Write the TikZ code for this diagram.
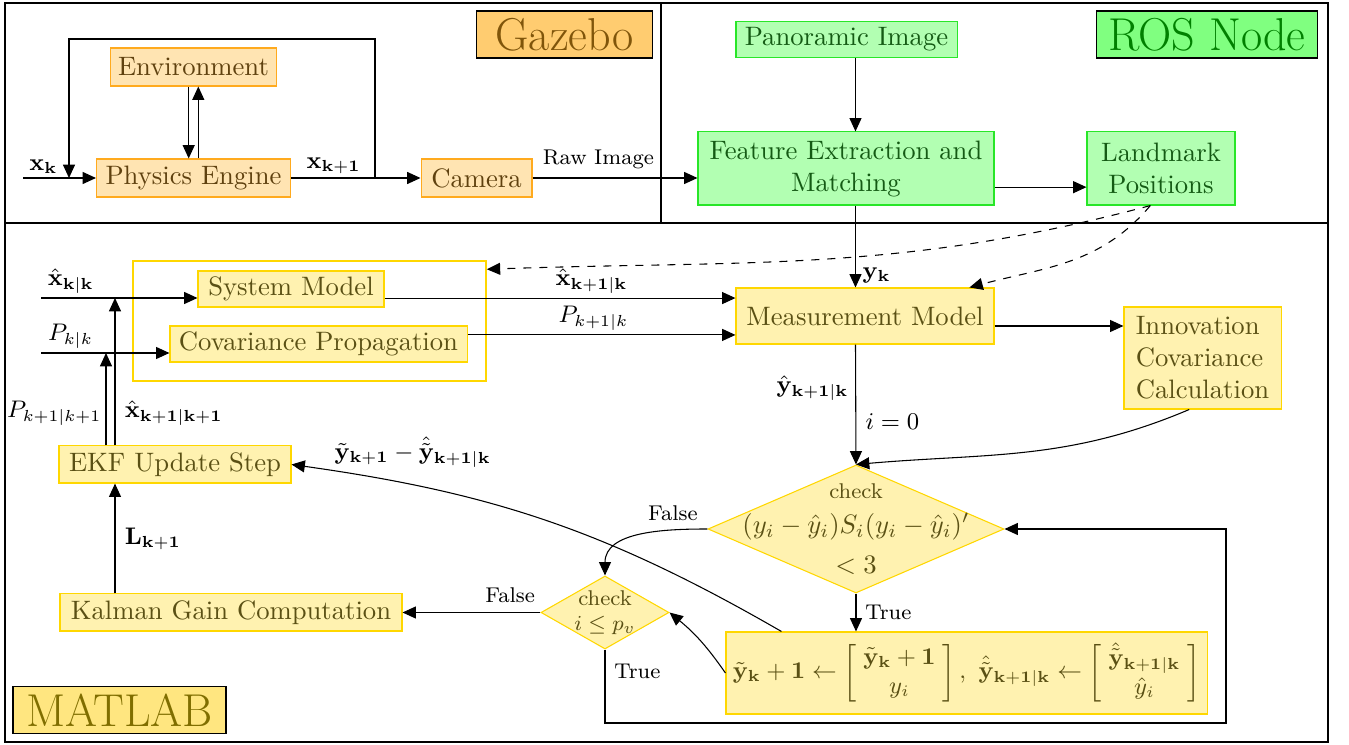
\documentclass[tikz,border=0pt]{standalone}
\usepackage{amsmath}
\usepackage{xcolor}
\usepackage{tikz}
\usetikzlibrary{arrows.meta}
\usetikzlibrary{positioning,shapes.geometric}

\definecolor{gzfill}{RGB}{255,228,178}
\definecolor{gzline}{RGB}{255,170,30}
\definecolor{gztext}{RGB}{95,65,15}
\definecolor{gzlab}{RGB}{255,204,112}
\definecolor{gzlabtext}{RGB}{128,85,10}
\definecolor{rsfill}{RGB}{178,255,178}
\definecolor{rsline}{RGB}{40,230,40}
\definecolor{rstext}{RGB}{20,90,20}
\definecolor{rslab}{RGB}{128,255,128}
\definecolor{rslabtext}{RGB}{0,128,0}
\definecolor{mlfill}{RGB}{255,242,176}
\definecolor{mlline}{RGB}{255,215,0}
\definecolor{mltext}{RGB}{90,80,20}
\definecolor{mllab}{RGB}{255,230,128}
\definecolor{mllabtext}{RGB}{128,110,0}

\begin{document}
\begin{tikzpicture}[
		x=0.375pt, y=0.375pt,
		Frame/.style={draw=black,line width=1pt},
		GzBox/.style={draw=gzline,fill=gzfill,text=gztext,inner sep=2pt,minimum height=14.25pt},
		RosBox/.style={draw=rsline,fill=rsfill,text=rstext,inner sep=2pt,align=center},
		MlBox/.style={draw=mlline,fill=mlfill,text=mltext,inner sep=2pt},
		TagBox/.style={draw=black,semithick,font=\LARGE,inner sep=1pt,minimum height=17.5pt},
		MlDiamond/.style={shape=diamond,draw=mlline,fill=mlfill,inner sep=0pt},
		Arr/.style={-{Triangle[length=5pt,width=4.5pt]}},
		DashArr/.style={Arr,dashed},
		Lbl/.style={font=\small,inner sep=1.5pt},
		Tf/.style={font=\footnotesize}
		]
		\useasboundingbox (0,0) rectangle (1349,-745);
		
		% the three parts
		\draw[Frame] (5,-3) rectangle (661,-223);
		\draw[Frame] (661,-3) rectangle (1328,-223);
		\draw[Frame] (5,-223) rectangle (1328,-742);
		
		\node[TagBox,fill=gzlab,text=gzlabtext,minimum width=66pt] (gztag) at (564.5,-34.5) {Gazebo};
		\node[TagBox,fill=rslab,text=rslabtext,minimum width=83pt] (rostag) at (1207,-34.5) {ROS Node};
		\node[TagBox,fill=mllab,text=mllabtext,minimum width=80pt] (mltag) at (119.5,-710) {MATLAB};
		
		% Gazebo
		\node[GzBox,minimum width=62.3pt] (env) at (193.5,-67) {Environment};
		\node[GzBox,minimum width=72.75pt] (phys) at (193.5,-178) {Physics Engine};
		\node[GzBox,minimum width=41.6pt] (cam) at (476.5,-178) {Camera};
		
		\coordinate (xin) at (23,-178);
		\coordinate (fbin) at (69,-178);
		\coordinate (tap) at (375,-178);
		\coordinate (looptop) at (375,-39);
		
		\draw[Arr] (xin) -- (phys.west) node[Lbl,pos=0.28,above] {$\mathbf{x_k}$};
		\draw[Arr] (tap) -- (looptop) -| (fbin);
		\draw[Arr] (phys.east) -- (cam.west) node[Lbl,pos=0.33,above] {$\mathbf{x_{k+1}}$};
		\draw[Arr] ([xshift=-1.8pt]env.south) -- ([xshift=-1.8pt]phys.north);
		\draw[Arr] ([xshift=1.8pt]phys.north) -- ([xshift=1.8pt]env.south);
		
		% ROS node
		\node[RosBox,minimum width=82.9pt,minimum height=13.5pt] (pano) at (846.5,-39.5) {Panoramic Image};
		\node[RosBox,minimum width=111pt,minimum height=27.4pt] (feat) at (846,-168.5) {Feature Extraction and\\ Matching};
		\node[RosBox,minimum width=55.5pt,minimum height=27.4pt] (lm) at (1161,-168.5) {Landmark\\ Positions};
		
		\coordinate (col) at (855.5,0);
		\draw[Arr] (pano.south -| col) -- (feat.north -| col);
		\draw[Arr] ([yshift=-7pt]feat.east) -- ([yshift=-7pt]lm.west);
		\draw[Arr] (cam.east) -- (cam.east -| feat.west) node[pos=0.4,above,Tf] {Raw Image};
		
		% MATLAB
		\node[draw=mlline,semithick,minimum width=132.4pt,minimum height=45pt] (pred) at (309.5,-321) {};
		\node[MlBox,minimum width=69.75pt,minimum height=13.5pt] (sys) at (291,-289) {System Model};
		\node[MlBox,minimum width=111.4pt,minimum height=13.5pt] (cov) at (318.5,-344) {Covariance Propagation};
		\node[MlBox,minimum width=96.75pt,minimum height=21pt] (meas) at (865,-316) {Measurement Model};
		\node[MlBox,minimum width=58.9pt,minimum height=38.25pt,align=left] (innov) at (1202.5,-358) {Innovation\\ Covariance\\ Calculation};
		\node[MlBox,minimum width=87pt,minimum height=13.9pt] (ekf) at (175,-464.5) {EKF Update Step};
		\node[MlBox,minimum width=128.25pt,minimum height=13.9pt] (kal) at (231,-612.5) {Kalman Gain Computation};
		\node[MlBox,minimum width=180.4pt,minimum height=30.75pt,font=\small] (upd) at (966.5,-673) {\arraycolsep=2.5pt$\tilde{\mathbf{y}}_{\mathbf{k}}+\mathbf{1}\leftarrow\left[\begin{array}{c}\tilde{\mathbf{y}}_{\mathbf{k}}+\mathbf{1}\\ y_i\end{array}\right],\ \hat{\tilde{\mathbf{y}}}_{\mathbf{k+1|k}}\leftarrow\left[\begin{array}{c}\hat{\tilde{\mathbf{y}}}_{\mathbf{k+1|k}}\\ \hat{y}_i\end{array}\right]$};
		
		\node[MlDiamond,minimum width=111pt,minimum height=48pt] (chk1) at (856,-529) {};
		\node[text=mltext,align=center] (chk1txt) at (chk1) {{\footnotesize check}\\[1pt] $(y_i-\hat{y}_i)S_i(y_i-\hat{y}_i)'$\\[3pt] $<3$};
		\node[MlDiamond,minimum width=48pt,minimum height=27.4pt] (chk2) at (605,-612.5) {};
		\node[text=mltext,align=center,font=\footnotesize] (chk2txt) at (chk2) {check\\ $i\le p_v$};
		
		\coordinate (xhin) at (41,-298);
		\coordinate (pin) at (41,-353);
		\coordinate (pcol) at (106,0);
		\coordinate (xcol) at (115,0);
		\coordinate (loopbr) at (1226,-723);
		
		\draw[Arr] (xhin) -- (xhin -| sys.west) node[Lbl,pos=0.19,above] {$\hat{\mathbf{x}}_{\mathbf{k|k}}$};
		\draw[Arr] (pin) -- (pin -| cov.west) node[Lbl,pos=0.23,above] {$P_{k|k}$};
		\draw[Arr] (ekf.north -| pcol) -- (pin -| pcol) node[Lbl,pos=0.35,left] {$P_{k+1|k+1}$};
		\draw[Arr] (ekf.north -| xcol) -- (xhin -| xcol) node[Lbl,pos=0.22,right,xshift=2pt] {$\hat{\mathbf{x}}_{\mathbf{k+1|k+1}}$};
		\draw[Arr] (kal.north -| xcol) -- (ekf.south -| xcol) node[Lbl,midway,right,xshift=2pt] {$\mathbf{L_{k+1}}$};
		
		\draw[Arr] ([yshift=-3.4pt]sys.east) -- ([yshift=-3.4pt]sys.east -| meas.west) node[Lbl,pos=0.59,above] {$\hat{\mathbf{x}}_{\mathbf{k+1|k}}$};
		\draw[Arr] ([yshift=3.4pt]cov.east) -- ([yshift=3.4pt]cov.east -| meas.west) node[Lbl,pos=0.47,above] {$P_{k+1|k}$};
		\draw[Arr] (feat.south -| col) -- (meas.north -| col) node[Lbl,pos=0.86,right,xshift=1pt] {$\mathbf{y_k}$};
		\draw[Arr] ([yshift=-3.75pt]meas.east) -- ([yshift=-3.75pt]meas.east -| innov.west);
		\draw[Arr] (meas.south -| col) -- (chk1.north) node[Lbl,pos=0.36,left,xshift=-1pt] {$\hat{\mathbf{y}}_{\mathbf{k+1|k}}$} node[Lbl,pos=0.64,right,xshift=2pt] {$i=0$};
		\draw[Arr] ([xshift=-5pt]innov.south) to[out=203,in=5] (chk1.north);
		
		% landmarks
		\draw[DashArr] ([xshift=-4pt]lm.south) to[out=195,in=2] ([yshift=-3.4pt]pred.north east);
		\draw[DashArr] ([xshift=-4pt]lm.south) to[out=-130,in=15] ([xshift=-9.4pt]meas.north east);
		
		\draw[Arr] (chk1.west) to[out=180,in=90] node[pos=0.25,above,Tf] {False} (chk2.north);
		\draw[Arr] (chk2.west) -- (kal.east) node[pos=0.22,above,Tf] {False};
		\draw[Arr] (chk2.south) |- node[pos=0.15,right,Tf] {True} (loopbr) |- (chk1.east);
		\draw[Arr] (chk1.south) -- (chk1.south |- upd.north) node[midway,right,Tf] {True};
		\draw[Arr] (upd.west) to[bend right=8] (chk2.east);
		\draw[Arr] ([xshift=21pt]upd.north west) to[out=150,in=-8] node[Lbl,pos=0.78,above=5pt] {$\tilde{\mathbf{y}}_{\mathbf{k+1}}-\hat{\tilde{\mathbf{y}}}_{\mathbf{k+1|k}}$} (ekf.east);
		
	\end{tikzpicture}
\end{document}
